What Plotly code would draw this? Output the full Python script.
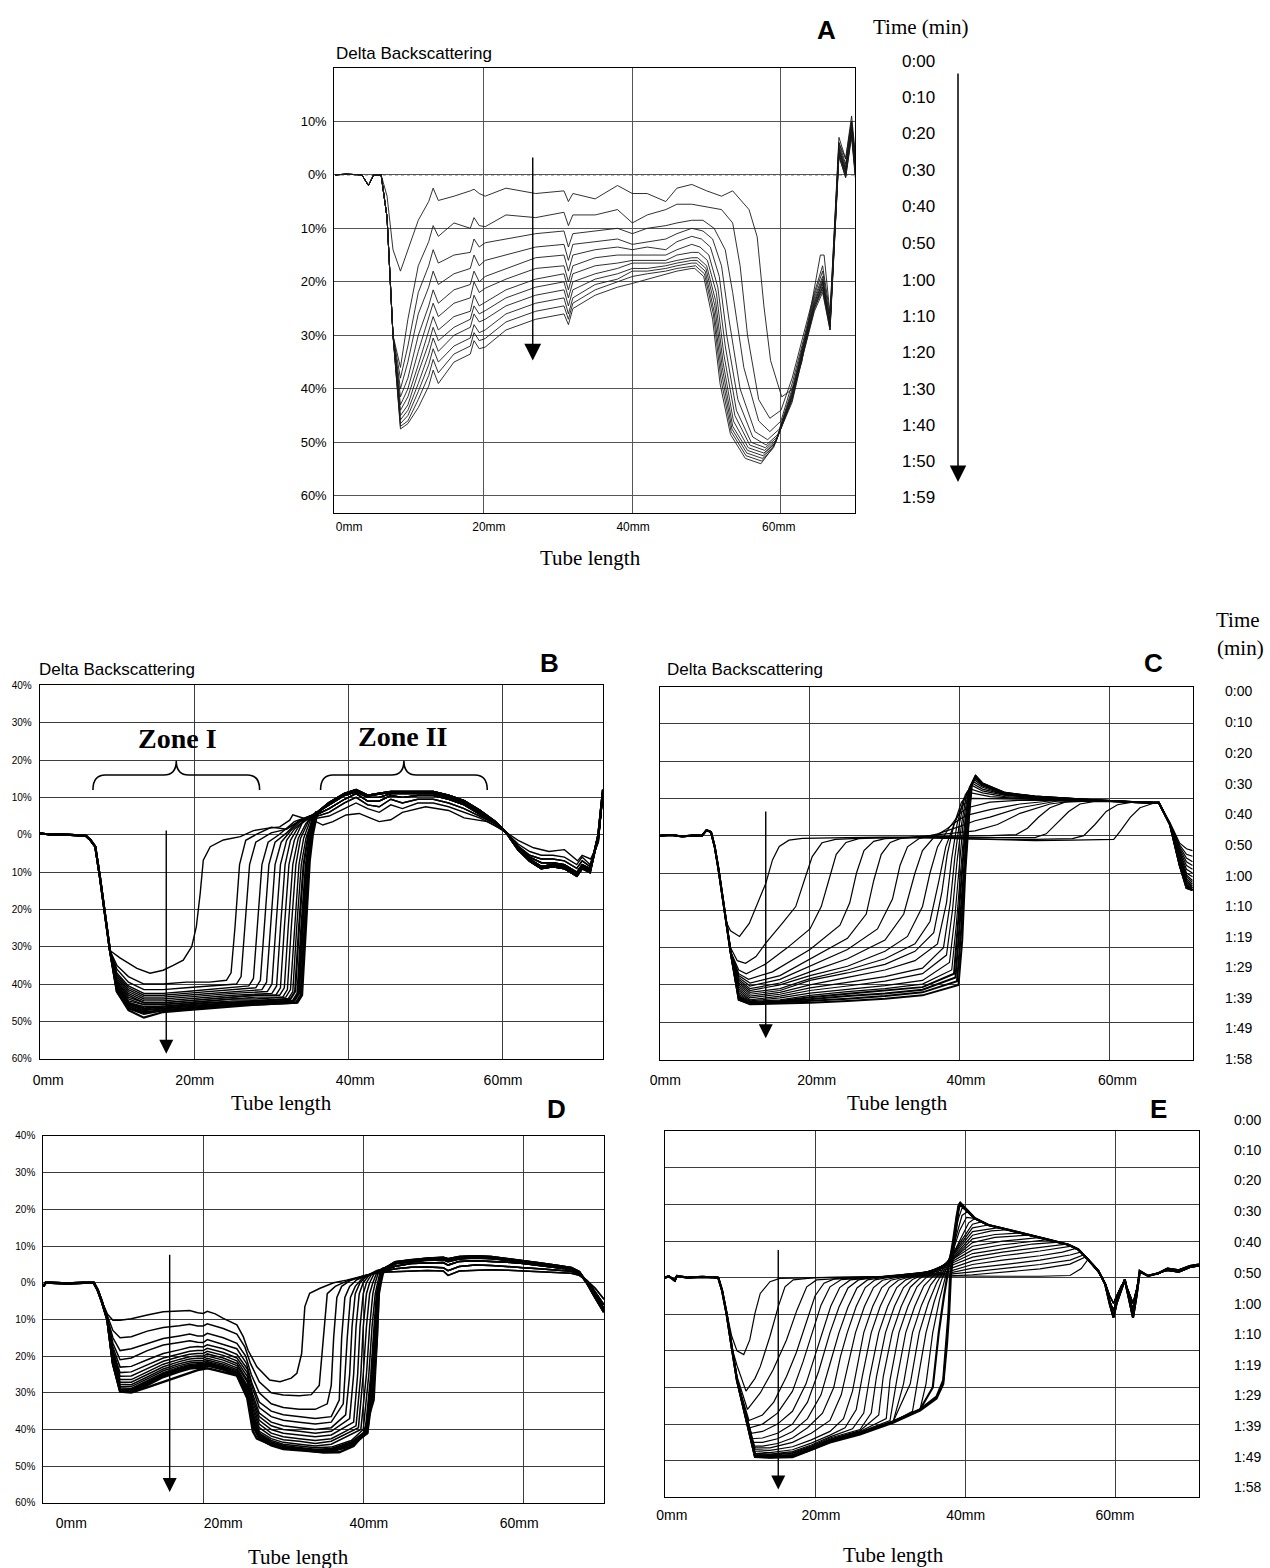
import plotly.graph_objects as go

W, H = 1270, 1568

# ============================ PANEL A ============================
A_BASE_X = [0.0, 1.5, 3.6, 4.5, 5.2, 6.2]
A_BASE_Y = [0.0, 0.1, 0.0, -2.0, 0.0, 0.0]
A_MID_X = [7.0, 7.8, 8.8, 9.8, 11.2, 12.6, 13.2, 13.9, 16.0, 18.2, 18.7, 19.4, 20.2, 23.0, 27.0,
           30.8, 31.4, 32.0, 35.0, 38.0, 40.0, 42.0, 44.5, 46.0, 48.0]
A_MID_Y = [
    [-4, -14, -18, -14, -8.5, -5, -2.5, -4.8, -4, -3, -2.7, -3.5, -4, -2.5, -3.5, -3, -5, -3.5, -4.5, -2, -3.5, -3.5, -5, -2.5, -1.8],
    [-8, -30, -36, -27, -17, -12.5, -9.5, -11.5, -9, -10, -8, -9.5, -9.7, -7.5, -8, -7, -9.5, -7.5, -7.5, -6.5, -9, -7.5, -6.5, -5.5, -5.5],
    [-8, -30, -38, -32, -22, -17, -14, -16.5, -15, -14.5, -12, -13.5, -12.7, -12, -11, -10.5, -13.5, -11, -10.5, -10, -11, -10, -9.5, -9, -8.5],
    [-8, -30, -40, -35, -26, -21, -18, -20.5, -18.5, -17.5, -15, -17, -16, -15, -13.5, -13, -16, -13, -12.5, -12, -13, -12.5, -12, -11, -10],
    [-8, -30, -41.5, -38, -30, -24.5, -21.5, -24, -21.5, -20.5, -18, -20, -19, -17.5, -15.5, -15, -18, -15, -14, -13.5, -14, -13.5, -14, -12.5, -11.5],
    [-8, -30, -43, -40, -33, -27, -24, -26.5, -24, -23, -20, -22, -21.2, -19.5, -17.5, -17, -20, -17, -15.5, -15, -15, -15, -15, -14, -13],
    [-8, -30, -44, -41.5, -35.5, -29.5, -26.5, -29, -26.5, -25.5, -22.5, -24.5, -23.8, -21.5, -19.5, -18.5, -21.5, -18.5, -17, -16.5, -16, -16, -16, -15, -14.5],
    [-8, -30, -45, -43, -37, -31.5, -28.5, -31, -28.5, -27, -24.5, -26, -25.4, -23, -21, -20, -23, -20, -18.5, -17.5, -16.5, -16.5, -16.5, -16, -15.5],
    [-8, -30, -45.8, -44, -39, -33.5, -30.5, -33, -30, -28.5, -26, -27.5, -27, -24.5, -22.5, -21.5, -24.5, -21.5, -19.5, -18.5, -17.5, -17.5, -17, -16.5, -16],
    [-8, -30, -46.5, -45, -40.5, -35.5, -32.5, -35, -32, -30.5, -28, -29.5, -29, -26, -24, -23, -26, -23, -20.5, -19.5, -18, -18, -17.5, -17, -16.5],
    [-8, -30, -47, -46, -42, -37.5, -34.5, -37, -33.5, -32, -29.5, -31, -30.6, -27.5, -25.5, -24.5, -27, -24, -21.5, -20, -19, -18.5, -18, -17.5, -17],
    [-8, -30, -47.5, -46.5, -43.5, -39.5, -36.5, -39, -35, -33.5, -31, -32.5, -32.2, -29, -27, -26, -28, -25, -22.5, -21, -20.3, -19.5, -18.5, -18, -17.5],
]
A_FIRST_RIGHT_X = [50, 52, 53.5, 54.5, 55.7, 56.8, 57.7, 58.6, 60.1, 61.6, 62.8, 64, 65.3, 65.8, 66.6, 67.8, 68.7, 69.5, 70.0]
A_FIRST_RIGHT_Y = [-3, -4, -3, -4.5, -6.5, -11.6, -24.5, -34.7, -41.5, -40, -35, -25, -15, -15, -26, 6, 3, 10, 3]
A_FRONT_X = [
    [50, 52, 53.5, 54.5, 55.5, 57, 58.5, 60],
    [49.5, 51, 52.5, 53.5, 55, 57, 58.5, 60],
    [49.5, 50.8, 52.0, 53.0, 54.5, 56.5, 58.2, 59.8],
    [49.3, 50.5, 51.7, 52.7, 54.2, 56.2, 58.0, 59.6],
    [49.1, 50.3, 51.5, 52.5, 54.0, 56.0, 57.9, 59.5],
    [48.9, 50.1, 51.3, 52.3, 53.8, 55.8, 57.8, 59.4],
    [48.8, 50.0, 51.2, 52.2, 53.6, 55.6, 57.7, 59.3],
    [48.7, 49.9, 51.1, 52.1, 53.5, 55.5, 57.6, 59.2],
    [48.6, 49.8, 51.0, 52.0, 53.4, 55.4, 57.5, 59.1],
    [48.5, 49.7, 50.9, 51.9, 53.3, 55.3, 57.4, 59.0],
    [48.4, 49.6, 50.8, 51.8, 53.2, 55.2, 57.3, 58.9],
]
A_TAIL_X = [61.5, 63.0, 64.5, 65.6, 66.6, 67.8, 68.7, 69.5, 70.0]
A_RIGHT_Y = [
    [-6, -6.5, -9, -17, -30, -42, -45.5, -44, -38, -30, -22, -17, -26, 7, 3, 11, 4],
    [-8.5, -10, -14, -22, -36, -46, -48, -46, -39, -31, -22.5, -18, -27, 6, 2, 10, 3],
    [-10.5, -12, -17, -27, -40, -48, -49.5, -47.5, -40, -31.5, -23, -19, -27.5, 5.5, 1.5, 9.5, 2],
    [-12, -13.5, -19, -30, -42, -49, -50.5, -48.5, -40.5, -32, -23.5, -19.5, -27.5, 5, 1, 9, 1.5],
    [-13.5, -15, -21, -32, -44, -50, -51, -49, -41, -32, -24, -20, -28, 5, 1, 9, 1],
    [-14.5, -16, -22, -33.5, -45, -50.5, -51.5, -49.5, -41, -32.5, -24, -20, -28, 4.5, 0.5, 8.5, 1],
    [-15.5, -17, -23.5, -35, -46, -51, -52, -50, -41.5, -32.5, -24.5, -20.5, -28, 4.5, 0.5, 8.5, 0.5],
    [-16, -17.5, -24.5, -36, -47, -51.5, -52.5, -50, -41.5, -33, -24.5, -21, -28.5, 4, 0, 8, 0.5],
    [-16.5, -18, -25.5, -37, -47.5, -52, -53, -50.5, -42, -33, -25, -21, -28.5, 4, 0, 8, 0],
    [-17, -18.5, -26, -38, -48, -52.5, -53.5, -51, -42, -33.5, -25, -21.5, -29, 3.5, -0.5, 7.5, 0],
    [-17.5, -19, -27, -39, -48.5, -53, -54, -51, -42.5, -33.5, -25.5, -22, -29, 3.5, -0.5, 7, -0.5],
]
A_TIMES = ['0:00', '0:10', '0:20', '0:30', '0:40', '0:50', '1:00', '1:10', '1:20', '1:30', '1:40', '1:50', '1:59']

# ============================ PANEL B ============================
B_BASE_X = [0, 1.5, 3, 4.5, 6.0, 6.6, 7.2, 7.8, 8.5, 9.1]
B_BASE_Y = [0.4, 0, 0.1, -0.1, -0.3, -1.5, -3.2, -11.3, -22, -31]
B_FIRST_X = [10.4, 12.6, 14.3, 16, 17.3, 18.6, 19.7, 20.3, 20.8, 21.2, 22.1, 23.8, 26, 27.7, 29.4, 31.1, 32.4, 32.8,
             34.2, 35.4, 36.7, 38, 39.7, 41.4, 42.8, 44, 45.5, 47, 50, 53, 55, 58, 60.2, 62, 64, 66, 68, 69.7,
             70.3, 71.4, 72.4, 73]
B_FIRST_Y = [-33, -35.8, -37.1, -36.3, -35, -33.6, -30, -24.6, -15.7, -6.8, -3.2, -1.4, -0.5, 1.1, 1.7, 2.1, 3.9, 5.3,
             4.4, 3.9, 2.6, 3.5, 5.3, 5.7, 4.5, 3.5, 4, 6, 7.5, 6.5, 4.5, 3.5, 1, -1.5, -3.5, -4.5, -4, -7,
             -5.5, -6.5, -2, 12]
B_MID_X = [
    [10, 11.5, 13.5, 16, 19, 22, 24.2, 24.8, 25.3, 25.9, 26.7, 28, 30, 32, 33.5, 35],
    [10, 11.5, 13.5, 16, 19, 22, 25.5, 26.1, 26.6, 27.2, 28, 30, 32, 33.5, 35],
    [10, 11.5, 13.5, 16, 19, 22, 25, 27.1, 27.7, 28.2, 28.8, 29.6, 31, 33, 35],
    [10, 11.5, 13.5, 16, 19, 22, 25, 28.0, 28.6, 29.1, 29.7, 30.5, 32, 33.5, 35],
    [10, 11.5, 13.5, 16, 19, 22, 25, 28.8, 29.4, 29.9, 30.5, 31.3, 32.5, 34, 35.5],
    [10, 11.5, 13.5, 16, 19, 22, 25, 29.5, 30.1, 30.6, 31.2, 32.0, 33, 34.3, 35.5],
    [10, 11.5, 13.5, 16, 19, 22, 25, 30.1, 30.7, 31.2, 31.8, 32.5, 33.5, 34.5, 35.7],
    [10, 11.5, 13.5, 16, 19, 22, 25, 28, 30.6, 31.2, 31.7, 32.3, 33, 34, 35.8],
    [10, 11.5, 13.5, 16, 19, 22, 25, 28, 31.1, 31.7, 32.2, 32.8, 33.5, 34.5, 35.8],
    [10, 11.5, 13.5, 16, 19, 22, 25, 28, 31.5, 32.1, 32.6, 33.2, 33.8, 34.8, 35.8],
    [10, 11.5, 13.5, 16, 19, 22, 25, 28, 31.9, 32.5, 33.0, 33.6, 34.2, 35, 35.8],
    [10, 11.5, 13.5, 16, 19, 22, 25, 28, 32.2, 32.8, 33.3, 33.9, 34.5, 35.2, 35.8],
    [10, 11.5, 13.5, 16, 19, 22, 25, 28, 32.5, 33.1, 33.6, 34.2, 34.8, 35.4, 35.9],
    [10, 11.5, 13.5, 16, 19, 22, 25, 28, 32.8, 33.4, 33.9, 34.5, 35, 35.5, 35.9],
    [10, 11.5, 13.5, 16, 19, 22, 25, 28, 33.0, 33.6, 34.1, 34.6, 35.1, 35.6, 35.9],
    [10, 11.5, 13.5, 16, 19, 22, 25, 28, 33.2, 33.8, 34.3, 34.8, 35.2, 35.7, 35.95],
    [10, 11.5, 13.5, 16, 19, 22, 25, 28, 33.4, 34.0, 34.5, 35.0, 35.4, 35.8, 35.95],
]
B_MID_Y = [
    [-35, -38, -40, -40, -39.5, -39.5, -39, -37, -25, -8, -1.5, 0, 2, 1.5, 3.5, 4],
    [-36, -39.5, -41.5, -41.5, -41, -40.5, -40, -38, -25, -8, -2, 0.5, 1.5, 3.5, 4.5],
    [-37, -40.5, -42.5, -42.5, -42, -41.5, -41, -40.5, -38.5, -25, -8, -2, 0, 3.5, 5],
    [-37.5, -41, -43, -43, -42.5, -42, -41.5, -41, -39, -25, -8, -2, 0.5, 3.5, 5],
    [-38, -41.5, -43.5, -43.5, -43, -42.5, -42, -41.5, -39.5, -25, -8, -2, 1, 4, 5.5],
    [-38.5, -42, -44, -44, -43.5, -43, -42.5, -42, -40, -25, -8, -1.5, 1.5, 4, 5.5],
    [-39, -42.5, -44.5, -44.5, -44, -43.5, -43, -42.5, -40.5, -25, -8, -1.5, 2, 4.5, 5.5],
    [-39.5, -43, -45, -45, -44.5, -44, -43.5, -43, -43, -41, -25, -8, -1.5, 3, 6],
    [-39.5, -43.5, -45, -45, -44.5, -44, -43.5, -43, -43, -41, -25, -8, -1, 3, 6],
    [-40, -44, -45.5, -45.5, -45, -44.5, -44, -43.5, -43.5, -41.5, -25, -8, -1, 3.5, 6],
    [-40, -44.5, -45.5, -45.5, -45, -44.5, -44, -44, -43.5, -41.5, -25, -8, -1, 3.5, 6],
    [-40.5, -45, -46, -46, -45.5, -45, -44.5, -44.5, -44, -42, -25, -8, -1, 3.5, 6],
    [-41, -45, -46.5, -46, -45.5, -45, -45, -44.5, -44, -42, -25, -8, 0, 4, 6],
    [-41, -45.5, -47, -46.5, -46, -45.5, -45, -45, -44.5, -42.5, -25, -8, 0, 4, 6],
    [-41.5, -46, -47.5, -47, -46.5, -46, -45.5, -45, -44.5, -42.5, -25, -8, 0, 4, 6],
    [-42, -46.5, -48, -47, -46.5, -46, -45.5, -45.5, -45, -43, -25, -8, 0, 4, 6],
    [-42, -47, -49, -47.5, -47, -46.5, -46, -45.5, -45, -43, -25, -7, 0, 4.5, 6],
]
B_RIGHT_X = [36, 37.5, 39.5, 41, 42.5, 44, 45.5, 47, 49, 51, 53, 55, 57, 59, 60.5, 62, 63.5, 65, 66.5, 68,
             69.6, 70.3, 71.3, 72.4, 73]
B_PROFILES = [
    [4.5, 5, 7, 8.5, 7, 6, 8, 7, 8.5, 8.5, 7.5, 6, 4.5, 2.5, 0.5, -2.5, -4.5, -5.5, -5.5, -6, -8, -6, -8, -2, 12],
    [5, 6, 8.5, 10, 8, 7.5, 9.5, 8.5, 9.5, 9.5, 8.5, 7, 5, 3, 0.5, -3, -5.5, -6.5, -6.5, -7, -9, -7, -8.5, -1.5, 12],
    [5.5, 7, 9.5, 11, 9, 9, 10.5, 10, 10.5, 10.5, 9.5, 8, 5.5, 3, 0.5, -3.5, -6, -7.5, -7.5, -8, -10, -8, -9, -1, 12],
    [6, 8, 10.5, 11.5, 10, 10, 11, 11, 11, 11, 10, 8.5, 6, 3, 0.5, -3.5, -6.5, -8.5, -8, -8.5, -10.5, -8.5, -9.5, -0.5, 12],
    [6, 8.5, 11, 12, 10.5, 11, 11.5, 11.5, 11.5, 11.5, 10.5, 9, 6.5, 3.5, 0.5, -4, -7, -9, -8.5, -9, -11, -9, -10, 0, 12],
]
B_PROFILE_OF = [0, 1, 1, 2, 2, 2, 2, 3, 3, 3, 3, 3, 4, 4, 4, 4, 4]

# ============================ PANEL C ============================
C_BASE_X = [0, 1.5, 3, 4.5, 5.6, 6.2, 6.8, 7.3, 7.8, 8.3, 8.8]
C_BASE_Y = [0, 0.2, -0.2, 0.1, 0, 1.5, 1, -3, -9, -16, -23]
C_X = [
    [9.4, 10.6, 11.9, 13.2, 14.1, 15.0, 15.9, 17.2, 19, 25, 30, 35, 40, 45, 50, 55, 60.5, 61.4, 62.7, 64, 65.8, 66.5, 68, 69.3, 70.2, 71.0],
    [9.4, 10.3, 11.4, 12.8, 14.1, 16.3, 18.1, 19.4, 20.3, 21.6, 23.4, 28, 35, 40, 45, 50, 55, 56.5, 58, 59.5, 61, 63, 65.8, 66.5, 68, 69.3, 70.2, 71.0],
    [9.4, 10.5, 11.5, 14, 17, 20, 21.5, 22.5, 23.5, 24.8, 26.5, 30, 35, 40, 45, 50, 51.5, 53, 54.5, 56, 58, 62, 65.8, 66.5, 68, 69.3, 70.2, 71.0],
    [9.4, 10.5, 11.8, 15, 20, 24, 25.3, 26.2, 27.2, 28.5, 30, 35, 40, 44, 47.5, 49, 50.5, 52, 54, 58, 62, 65.8, 66.5, 68, 69.3, 70.2, 71.0],
    [9.4, 10.5, 12, 16, 20, 25, 27.5, 28.5, 29.5, 30.7, 32, 36, 40, 42, 45, 48, 52, 55, 58, 62, 65.8, 66.5, 68, 69.3, 70.2, 71.0],
    [9.4, 10.5, 12, 16, 20, 25, 29, 31, 32, 33, 34.5, 37, 40, 42, 44, 48, 53, 58, 62, 65.8, 66.5, 68, 69.3, 70.2, 71.0],
    [9.4, 10.5, 12, 16, 20, 25, 30, 32.5, 34, 35, 36.5, 38, 40, 41, 44, 48, 52, 58, 62, 65.8, 66.5, 68, 69.3, 70.2, 71.0],
    [9.4, 10.5, 12, 16, 20, 25, 30, 33, 35, 36, 37, 38.5, 40, 41, 44, 48, 58, 62, 65.8, 66.5, 68, 69.3, 70.2, 71.0],
    [9.4, 10.5, 12, 16, 20, 25, 30, 34, 36, 37.2, 38.1, 39.2, 40.3, 41.5, 44, 48, 58, 62, 65.8, 66.5, 68, 69.3, 70.2, 71.0],
    [9.4, 10.5, 12, 16, 20, 25, 30, 34, 36.5, 37.6, 38.3, 39.2, 40.2, 41.5, 44, 48, 58, 62, 65.8, 66.5, 68, 69.3, 70.2, 71.0],
    [9.4, 10.5, 12, 16, 20, 25, 30, 34, 37, 38.2, 38.9, 39.6, 40.5, 41.5, 43, 46, 50, 58, 62, 65.8, 66.5, 68, 69.3, 70.2, 71.0],
    [9.4, 10.5, 12, 16, 20, 25, 30, 35, 37.8, 38.7, 39.3, 39.9, 40.7, 41.6, 43, 46, 50, 58, 62, 65.8, 66.5, 68, 69.3, 70.2, 71.0],
    [9.4, 10.5, 12, 16, 20, 25, 30, 35, 38.2, 39.0, 39.6, 40.2, 40.9, 41.7, 43, 46, 50, 58, 62, 65.8, 66.5, 68, 69.3, 70.2, 71.0],
    [9.4, 10.5, 12, 16, 20, 25, 30, 35, 38.6, 39.3, 39.9, 40.4, 41.1, 41.8, 43, 46, 50, 58, 62, 65.8, 66.5, 68, 69.3, 70.2, 71.0],
    [9.4, 10.5, 12, 16, 20, 25, 30, 35, 38.9, 39.5, 40.1, 40.6, 41.2, 41.9, 43, 46, 50, 58, 62, 65.8, 66.5, 68, 69.3, 70.2, 71.0],
    [9.4, 10.5, 12, 16, 20, 25, 30, 35, 39.2, 39.7, 40.3, 40.8, 41.3, 42.0, 43, 46, 50, 58, 62, 65.8, 66.5, 68, 69.3, 70.2, 71.0],
    [9.4, 10.5, 12, 16, 20, 25, 30, 35, 39.4, 39.9, 40.5, 41.0, 41.4, 42.0, 43, 46, 50, 58, 62, 65.8, 66.5, 68, 69.3, 70.2, 71.0],
    [9.4, 10.5, 12, 16, 20, 25, 30, 35, 39.6, 40.1, 40.6, 41.1, 41.5, 42.1, 43, 46, 50, 58, 62, 65.8, 66.5, 68, 69.3, 70.2, 71.0],
    [9.4, 10.5, 12, 16, 20, 25, 30, 35, 39.8, 40.3, 40.7, 41.2, 41.6, 42.1, 43, 46, 50, 58, 62, 65.8, 66.5, 68, 69.3, 70.2, 71.0],
]
C_Y = [
    [-25.5, -27, -23.5, -17.2, -12.8, -6.5, -2.9, -1.2, -0.7, -0.5, -0.4, -0.5, -0.8, -1.2, -1.3, -1.2, -1, 1.3, 4.9, 7.5, 8.7, 8.8, 3.5, -2, -3.5, -4],
    [-30, -33.5, -34.2, -32.4, -28.8, -23.5, -19, -11, -5.6, -1.9, -1, -0.6, -0.5, -0.8, -1, -1, -0.8, 0, 3, 6.5, 8.3, 9, 8.8, 8.9, 3.2, -2.5, -5, -5.5],
    [-31, -36, -37, -34.5, -30, -25, -19, -12, -5, -1.8, -0.8, -0.5, -0.3, -0.5, -0.6, -0.5, 0.5, 3.5, 6.5, 8.5, 9.2, 9.1, 8.8, 8.9, 3.1, -3, -6, -7],
    [-31, -37, -38.5, -36.5, -30.5, -24, -18, -10, -4, -1.5, -0.8, -0.3, -0.2, 0, 0.3, 2, 5, 7.5, 9, 9.3, 9.1, 8.8, 8.9, 3, -3.5, -7, -8],
    [-31, -37.5, -39.5, -37.5, -33, -27.5, -21, -12, -5, -1.8, -0.8, 0, 0.8, 1.3, 3, 6, 8.5, 9.3, 9.4, 9.1, 8.8, 8.9, 3, -4, -8, -9],
    [-31, -38, -40.3, -38.5, -35, -30.5, -25, -17, -8, -3, -0.8, 0.5, 2.5, 4, 5, 7.5, 9.3, 9.4, 9.1, 8.8, 8.9, 3, -4.5, -9, -10],
    [-31, -38.5, -41, -39.5, -36.5, -33, -28, -21, -10, -4, -0.5, 1.5, 4.5, 5.5, 7, 8.5, 9.3, 9.4, 9.1, 8.8, 8.9, 3, -5, -10, -11],
    [-31, -39, -41.5, -40, -37.5, -35, -31, -27, -19, -10, -3, 2, 6, 7.5, 9, 9.5, 9.4, 9.1, 8.8, 8.9, 3, -5.5, -10.5, -12],
    [-31, -39.5, -42, -41, -38.3, -36, -33, -29, -23, -12, -3, 3, 8, 10, 10, 9.8, 9.4, 9.1, 8.8, 8.9, 3, -6, -11, -12.5],
    [-31, -40, -42.5, -41.5, -38.8, -36.8, -34.5, -31, -26, -15, -5, 3, 9, 11.5, 10.5, 10, 9.4, 9.1, 8.8, 8.9, 3, -6, -11.5, -13],
    [-31, -40.5, -43, -42, -40, -38, -36, -33.5, -29, -18, -6, 3, 10, 12.5, 11.5, 10.5, 10, 9.4, 9.1, 8.8, 8.9, 3, -6.5, -12, -13.5],
    [-31, -41, -43.5, -42.5, -40.8, -39.3, -37.8, -35.5, -30, -18, -6, 3, 11, 13.5, 12, 10.8, 10.2, 9.4, 9.1, 8.8, 8.9, 3, -6.5, -12, -14],
    [-31, -41.5, -44, -43, -41.5, -40.3, -39, -37, -32, -20, -7, 3, 11.5, 14, 12.5, 11, 10.2, 9.4, 9.1, 8.8, 8.9, 3, -7, -12.5, -14],
    [-31, -42, -44.3, -43.5, -42.2, -41.2, -40.2, -38.8, -34, -22, -8, 3, 12, 14.5, 13, 11, 10.3, 9.5, 9.1, 8.8, 8.9, 3, -7, -13, -14.5],
    [-31, -42.5, -44.5, -44, -42.8, -41.8, -41, -39.8, -36, -24, -9, 3, 12.5, 15, 13.3, 11.2, 10.4, 9.5, 9.1, 8.8, 8.9, 3, -7.5, -13, -14.5],
    [-31, -43, -44.8, -44.3, -43.3, -42.4, -41.6, -40.6, -37, -25, -9, 4, 13, 15.5, 13.6, 11.3, 10.4, 9.5, 9.1, 8.8, 8.9, 3, -7.5, -13.5, -14.6],
    [-31, -43.5, -45, -44.5, -43.8, -43, -42.3, -41.3, -38, -26, -10, 4, 13, 15.8, 13.8, 11.4, 10.5, 9.5, 9.1, 8.8, 8.9, 3, -8, -13.5, -14.6],
    [-31, -44, -45, -44.7, -44.3, -43.7, -43, -42, -39, -27, -10, 4.5, 13.5, 16, 14, 11.5, 10.5, 9.5, 9.1, 8.8, 8.9, 3, -8, -14, -14.6],
    [-31, -44, -45.2, -45, -44.8, -44.3, -43.7, -42.8, -40, -28, -10, 5, 14, 16, 14, 11.5, 10.5, 9.5, 9.1, 8.8, 8.9, 3, -8, -14, -14.6],
]
C_TIMES = ['0:00', '0:10', '0:20', '0:30', '0:40', '0:50', '1:00', '1:10', '1:19', '1:29', '1:39', '1:49', '1:58']

# ============================ PANEL D ============================
D_BASE_X = [0, 0.3, 1, 3, 5, 6.3, 6.8, 7.3]
D_BASE_Y = [-1, 0, 0, -0.2, 0, 0, -2, -5]
D_LEFT_X = [8.0, 8.7, 9.6, 11, 13, 15, 17, 18.3, 19.3, 20, 20.5, 21.5, 22.5, 24.2]
D_LEFT_Y = [
    [-8.5, -10.2, -10.2, -9.8, -8.8, -7.9, -7.7, -7.6, -8.2, -8.4, -7.8, -8.5, -9.7, -11.5],
    [-9, -13, -15, -14.7, -13.2, -12.2, -11.7, -11.3, -11.8, -11.8, -11.2, -11.8, -12.5, -14],
    [-9.5, -15, -18.5, -18, -16.5, -15.2, -14.5, -14, -14.5, -14.5, -13.8, -14.5, -15, -16.5],
    [-9.8, -16.5, -21, -20.5, -18.5, -17, -16.3, -15.8, -16.2, -16.3, -15.5, -16.2, -16.8, -18],
    [-10, -17.5, -23, -22.8, -21, -19.3, -18.3, -17.6, -17.4, -17.5, -16.9, -17.4, -18, -19.5],
    [-10, -18.5, -24.5, -24.3, -22.4, -20.5, -19.4, -18.7, -18.5, -18.5, -17.9, -18.4, -19, -20.5],
    [-10, -19, -25.5, -25.4, -23.4, -21.4, -20.2, -19.5, -19.3, -19.3, -18.7, -19.2, -19.8, -21.3],
    [-10, -19.5, -26.4, -26.4, -24.3, -22.2, -20.9, -20.2, -20, -20, -19.4, -19.9, -20.5, -22],
    [-10, -20, -27.1, -27.1, -25, -22.9, -21.5, -20.8, -20.6, -20.6, -20, -20.5, -21.1, -22.6],
    [-10, -20.5, -27.7, -27.8, -25.7, -23.5, -22.1, -21.4, -21.2, -21.2, -20.6, -21.1, -21.7, -23.2],
    [-10, -21, -28.2, -28.3, -26.2, -24, -22.6, -21.9, -21.7, -21.7, -21.1, -21.6, -22.2, -23.7],
    [-10, -21.3, -28.6, -28.8, -26.7, -24.5, -23, -22.3, -22.1, -22.1, -21.5, -22, -22.6, -24.1],
    [-10, -21.6, -29, -29.2, -27.1, -24.9, -23.4, -22.7, -22.5, -22.5, -21.9, -22.4, -23, -24.5],
    [-10, -21.8, -29.3, -29.5, -27.5, -25.3, -23.8, -23.1, -22.9, -22.9, -22.3, -22.8, -23.4, -24.8],
    [-10, -22, -29.5, -29.7, -27.9, -25.7, -24.2, -23.4, -23.2, -23.2, -22.6, -23.1, -23.7, -25.1],
    [-10, -22, -29.7, -29.9, -28.5, -27, -25.6, -24.6, -23.8, -23.5, -23.3, -23.8, -24.3, -25.3],
]
D_MID_X = [
    [25, 25.6, 26.7, 28.3, 29.6, 31, 31.7, 32.3, 32.7, 33.3, 34.6, 36.3, 37.9, 39.6, 41.3],
    [25.2, 25.9, 27, 28.5, 30, 32, 33.5, 34.5, 35, 35.5, 36.5, 38, 40, 41.5],
    [25.3, 26, 27, 28.5, 30, 32, 34, 35.5, 36, 36.3, 36.7, 37.3, 38.3, 40, 41.7],
    [25.4, 26.1, 27, 28.5, 30, 32, 34, 36, 37, 37.3, 37.7, 38.3, 39.2, 40.5, 41.8],
    [25.5, 26.2, 27, 28.5, 30, 32, 34, 36, 37.5, 38, 38.4, 39, 39.8, 41, 42],
    [25.5, 26.2, 27, 28.5, 30, 32, 34, 36, 37.8, 38.3, 38.6, 39, 39.6, 40.5, 41.7],
    [25.5, 26.2, 27, 28.5, 30, 32, 34, 36, 38.3, 38.8, 39.1, 39.5, 40, 40.8, 41.9],
    [25.5, 26.2, 27, 28.5, 30, 32, 34, 36, 38.8, 39.3, 39.6, 40, 40.4, 41.1, 42],
    [25.5, 26.2, 27, 28.5, 30, 32, 34, 36, 39.1, 39.7, 40, 40.4, 40.8, 41.4, 42.2],
    [25.5, 26.2, 27, 28.5, 30, 32, 34, 36, 39.4, 40, 40.4, 40.8, 41.2, 41.7, 42.3],
    [25.5, 26.2, 27, 28.5, 30, 32, 34, 36, 39.7, 40.4, 40.8, 41.2, 41.5, 41.9, 42.4],
    [25.5, 26.2, 27, 28.5, 30, 32, 34, 36, 38.5, 40.0, 40.7, 41.1, 41.5, 41.8, 42.1, 42.5],
    [25.5, 26.2, 27, 28.5, 30, 32, 34, 36, 38.5, 40.3, 41.0, 41.4, 41.7, 42.0, 42.3, 42.7],
    [25.5, 26.2, 27, 28.5, 30, 32, 34, 36, 38.5, 40.5, 41.2, 41.6, 41.9, 42.1, 42.4, 42.8],
    [25.5, 26.2, 27, 28.5, 30, 32, 34, 36, 38.5, 40.5, 41.3, 41.7, 41.95, 42.2, 42.5, 42.9],
    [25.5, 26.2, 26.7, 28.3, 30.4, 33, 35, 37, 38.8, 40, 41.3, 41.7, 41.95, 42.3, 42.6, 42.9],
]
D_MID_Y = [
    [-14.7, -18.4, -22.9, -26.5, -27, -26, -24.7, -19.3, -6.5, -2.9, -1.5, 0, 0.7, 1.6, 2.5],
    [-17.5, -22, -27, -30, -30.6, -30.8, -30.5, -28, -15, -3, -1, 0.5, 1.8, 2.6],
    [-20, -25, -30, -33, -34, -34.5, -34.5, -33, -28, -15, -4, -1, 0.5, 1.8, 2.8],
    [-22, -27.5, -32.5, -35, -36, -36.5, -37, -36.5, -32, -15, -4, -1, 0.8, 2, 3],
    [-23.5, -29, -34, -36.5, -37.5, -38, -38.5, -38, -33, -15, -4, -1, 1, 2.3, 3.1],
    [-24.5, -30.5, -35.5, -38, -39, -39.5, -40, -39.5, -36, -25, -12, -3, 0, 2, 3.3],
    [-25.5, -31.5, -36.5, -39, -40, -40.5, -41, -40.5, -37, -25, -12, -3, 0, 2.2, 3.4],
    [-26.5, -32.5, -37.5, -40, -41, -41.5, -42, -41.5, -38, -25, -12, -3, 0, 2.5, 3.5],
    [-27, -33.5, -38.5, -41, -42, -42.5, -43, -42.5, -39, -25, -12, -3, 0, 2.6, 3.6],
    [-28, -34.5, -39.5, -41.8, -42.8, -43.2, -43.8, -43.2, -39.5, -25, -12, -3, 0, 2.8, 3.8],
    [-28.5, -35.5, -40.5, -42.5, -43.5, -44, -44.5, -44, -40, -25, -12, -3, 0, 2.9, 3.9],
    [-29, -36, -41, -43, -44, -44.5, -45, -44.8, -43, -40, -25, -12, -3, 0, 2.9, 4],
    [-29.5, -37, -41.5, -43.5, -44.5, -45, -45.5, -45.3, -43.5, -40.5, -25, -12, -3, 0, 3, 4],
    [-30, -38, -42, -44, -45, -45.3, -45.8, -45.6, -44, -41, -25, -12, -3, 0, 3, 4.1],
    [-30.5, -39, -42.5, -44.3, -45.3, -45.7, -46, -46, -44.5, -41, -28, -15, -3, 0, 3, 4.2],
    [-31.5, -40.5, -42.5, -44, -45, -45.8, -46.3, -46.2, -44.5, -41.5, -32, -15.6, -1, 2, 3.2, 4.2],
]
D_RIGHT_X = [43, 44, 46, 48, 50, 50.6, 52, 54, 56, 58, 60, 62, 64, 66, 67, 68, 69, 69.6, 70.1]
D_PROFILES = [
    [2.9, 3, 3.2, 3.3, 3.2, 2.0, 3.2, 3.4, 3.5, 3.4, 3.2, 3.0, 2.8, 2.6, 2, 0.5, -1.5, -3, -4.5],
    [3.3, 3.8, 4.2, 4.3, 4.1, 3.3, 4.4, 4.8, 4.7, 4.5, 4.1, 3.8, 3.4, 3.1, 2.3, 0.5, -2.5, -4.5, -6],
    [3.7, 4.5, 5.2, 5.4, 5.5, 4.8, 5.8, 6, 5.9, 5.6, 5.2, 4.6, 4.2, 3.6, 2.6, 0.2, -3, -5, -7],
    [4.1, 5.2, 5.8, 6.2, 6.3, 5.8, 6.5, 6.8, 6.6, 6.2, 5.7, 5.1, 4.5, 3.9, 2.8, 0, -3.5, -5.5, -7.5],
    [4.3, 5.6, 6.2, 6.6, 6.8, 6.4, 7, 7.2, 7, 6.5, 6, 5.3, 4.7, 4, 2.9, -0.2, -4, -6, -8],
]
D_PROFILE_OF = [0, 0, 1, 1, 1, 2, 2, 2, 2, 3, 3, 3, 3, 4, 4, 4]

# ============================ PANEL E ============================
E_BASE_X = [0, 0.5, 1.0, 1.3, 1.6, 3, 5, 7.1, 7.6, 8.2]
E_BASE_Y = [0, 0.4, -0.3, -0.8, 0.5, 0, 0.2, 0, -3.4, -9.7]
E_ENV_X = [39.3, 41.3, 43.1, 45.8, 48.4, 51.1, 53.8, 55.1, 56.4]
E_ENV_Y = [20.3, 16.2, 14.4, 13.1, 11.7, 10.4, 9.0, 7.7, 5.0]
E_TAIL_X = [57.8, 58.7, 59.3, 59.8, 60.2, 60.9, 61.3, 61.9, 62.4, 62.9, 63.3, 64.4, 65.8, 67, 68.5, 70, 71.2]
E_TAILS = [
    [1.5, -1.5, -5, -7, -5, -2, -1, -4, -7, -3, 1.5, 0.5, 1.2, 2, 1.5, 2.8, 3.2],
    [1.8, -1.8, -6.5, -9, -6, -2.5, -0.5, -5, -9, -4, 1.8, 0.5, 1.2, 2.3, 1.8, 3, 3.4],
    [1.8, -1.8, -7.2, -10.8, -7, -2.7, -0.5, -6, -10.8, -4.5, 1.8, 0.5, 1.2, 2.5, 2, 3.2, 3.6],
]
E_X = [
    [8.9, 9.6, 10.5, 11.3, 12.0, 12.7, 14.0, 15.3, 20, 25, 30, 36, 40, 45, 50, 54, 55.5],
    [8.9, 9.6, 10.8, 12.0, 12.7, 14.0, 15.1, 16.0, 17.1, 20, 30, 38, 41, 46, 50, 54, 56.0],
    [8.9, 9.6, 11.0, 12.7, 14.4, 16.2, 17.6, 18.9, 20.2, 25, 32, 38, 41, 46, 50, 54, 55.8],
    [8.9, 9.6, 11.2, 13, 14.5, 16.2, 17.5, 18.8, 20, 21.2, 22.5, 28, 34, 38, 41, 46, 50, 54, 55.4],
    [8.9, 9.6, 11.3, 13, 15, 17, 18.4, 19.6, 20.8, 22, 23.5, 30, 35, 38, 41, 45, 50, 53, 54.8],
    [8.9, 9.6, 11.5, 13, 15, 17, 18.8, 20.1, 20.9, 22.1, 23.3, 24.7, 30, 35, 38, 41, 45, 50, 54.2],
    [8.9, 9.6, 11.6, 13, 15, 17, 19, 20.5, 22, 23.2, 24.4, 25.8, 30, 35, 37.5, 41, 45, 50, 53.5],
    [8.9, 9.6, 11.7, 13, 15, 17, 19, 20.8, 22, 23.2, 24.4, 25.6, 27, 31, 35, 37.5, 41, 45, 49, 52.5],
    [8.9, 9.6, 11.8, 13, 15, 17, 19, 21, 22.5, 23.4, 24.3, 25.5, 26.7, 28, 32, 35, 37.5, 41, 45, 51.0],
    [8.9, 9.6, 12, 14, 17, 19.5, 22, 23.5, 24.5, 25.4, 26.6, 27.8, 29, 33, 35.5, 37.5, 41, 45, 49.8],
    [8.9, 9.6, 12, 14, 17, 19.5, 22, 23.8, 25, 25.8, 26.5, 27.7, 28.9, 30.1, 34, 36, 38, 41, 44, 48.5],
    [8.9, 9.6, 12, 14, 17, 19.5, 22, 24, 25.5, 26.3, 27.5, 28.7, 29.9, 31.1, 34.5, 36.5, 38.3, 41, 44, 47.3],
    [8.9, 9.6, 12, 14, 17, 19.5, 22, 25, 26.5, 27.3, 28.5, 29.7, 30.9, 32.1, 35, 37, 38.6, 41, 43.5, 45.8],
    [8.9, 9.6, 12, 14, 17, 19.5, 22, 26, 27.5, 28.2, 29.4, 30.6, 31.8, 33, 35.5, 37.3, 38.8, 41, 44.5],
    [8.9, 9.6, 12, 14, 17, 19.5, 22, 26, 28.5, 29.1, 30.3, 31.5, 32.7, 33.9, 36, 37.6, 39, 41, 43.1],
    [8.9, 9.6, 12, 14, 17, 19.5, 22, 26, 29.5, 30.0, 31.2, 32.4, 33.6, 34.8, 36.5, 38, 39.3, 41, 42.3],
    [8.9, 9.6, 12, 14, 17, 19.5, 22, 26, 30, 30.9, 32.1, 33.3, 34.5, 35.7, 37, 38.3, 39.5, 40.5, 41.3],
    [8.9, 9.6, 12, 14, 17, 19.5, 22, 26, 30.4, 31.8, 33, 34.2, 35.4, 36.6, 37.6, 38.5, 39.3, 40.2, 41.3],
    [8.9, 9.6, 12, 14, 17, 19.5, 22, 26, 30.4, 32.7, 33.9, 35.1, 36.2, 37.2, 38.1, 38.9, 39.6, 40.3, 41.3],
    [8.9, 9.6, 12, 14, 17, 19.5, 22, 26, 30.4, 33, 33.7, 34.8, 35.9, 36.8, 37.6, 38.4, 39.1, 39.6, 40.3, 41.3],
    [8.9, 9.6, 12, 14, 17, 19.5, 22, 26, 30.4, 34, 34.8, 35.7, 36.6, 37.3, 38, 38.7, 39.2, 39.5, 41.3],
    [8.9, 9.6, 12, 14, 17, 19.5, 22, 26, 30.4, 34, 35.7, 36.5, 37.2, 37.8, 38.4, 38.9, 39.3, 41.3],
    [8.9, 9.6, 12, 14, 17, 19.3, 22, 26, 30.4, 34, 36.2, 37.1, 37.5, 37.8, 38.0, 38.5, 39.1, 39.3, 41.3],
    [8.9, 9.6, 12, 14, 17, 19.3, 22, 26, 30.4, 34, 36.2, 37.1, 37.6, 37.9, 38.1, 38.6, 39.2, 39.4, 41.3],
]
E_Y = [
    [-16, -20, -21, -17, -9.7, -4.3, -1.1, -0.2, 0, 0.3, 0.4, 0.5, 0.4, 0.4, 0.4, 0.6, 2.5],
    [-19, -24, -31, -27.5, -24.3, -16, -7.9, -2.5, -0.6, 0, 0.3, 0.5, 0.8, 1.6, 2.4, 3.7, 5.6],
    [-19, -27, -36, -31.5, -25.2, -17, -8.8, -2.5, -0.6, 0, 0.5, 1, 1.6, 2.6, 3.6, 4.8, 6.2],
    [-19, -28, -39, -37.5, -34, -27, -20.5, -12.5, -5, -1.5, -0.4, 0.2, 0.7, 1.3, 2.6, 3.8, 4.8, 6.2, 7.0],
    [-19, -28, -41, -40, -37, -31, -23, -15, -7.5, -2.5, -0.5, 0.4, 1, 1.8, 3.6, 4.8, 6, 7, 8.0],
    [-19, -28, -42.5, -42, -40, -36.5, -29, -20.5, -15, -7.8, -2.7, -0.6, 0.5, 1.2, 2.5, 4.6, 6, 7.3, 8.6],
    [-19, -28, -44, -43.8, -42.5, -40, -34, -25.5, -15, -8, -2.8, -0.6, 0.6, 1.4, 2.8, 5.6, 7, 8.2, 9.2],
    [-19, -28, -45, -45, -44, -42, -38.5, -32, -23.5, -15, -8, -2.8, -0.6, 0.7, 1.5, 3.2, 6.6, 8, 9.2, 9.7],
    [-19, -28, -46, -46, -45.3, -43.8, -41, -37, -30, -21.5, -15, -7.8, -2.7, -0.6, 0.9, 1.6, 3.5, 7.6, 9, 10.45],
    [-19, -28, -46.5, -46.5, -45, -42.5, -39, -32, -23, -15, -7.8, -2.7, -0.7, 1.0, 1.8, 3.8, 8.6, 10, 10.95],
    [-19, -28, -47, -47.2, -46.2, -44.3, -42, -38.5, -31, -23, -15, -7.8, -2.7, -0.7, 1.2, 2.1, 4.5, 9.6, 11, 11.65],
    [-19, -28, -47.5, -47.8, -47, -45.2, -43, -41, -36, -27, -15, -7.8, -2.7, -0.7, 1.4, 2.5, 5, 10.6, 11.8, 12.2],
    [-19, -28, -48, -48.2, -47.5, -45.7, -43.5, -41.3, -37, -27, -15, -7.8, -2.7, -0.6, 1.6, 3, 6, 11.6, 12.8, 13.1],
    [-19, -28, -48, -48.3, -47.8, -46, -43.8, -41.5, -37, -27, -15, -7.8, -2.7, -0.5, 1.8, 3.5, 7, 12.6, 13.7],
    [-19, -28, -48.3, -48.5, -48, -46.2, -44.1, -41.8, -37.5, -27, -15, -7.8, -2.6, -0.3, 2, 4, 8, 13.6, 14.4],
    [-19, -28, -48.5, -48.7, -48.3, -46.4, -44.3, -42, -38.5, -28, -15, -7.8, -2.5, 0, 2.3, 5, 9.5, 14.6, 15.3],
    [-19, -28, -48.5, -48.8, -48.4, -46.6, -44.5, -42.2, -39, -28, -15, -7.8, -2.3, 0.3, 2.8, 6, 11, 15, 16.2],
    [-19, -28, -48.5, -48.8, -48.5, -46.7, -44.6, -42.3, -39.5, -29, -15, -7.5, -2, 1, 3.8, 8, 13, 16.5, 16.2],
    [-19, -28, -48.7, -48.9, -48.6, -46.8, -44.7, -42.4, -39.4, -29, -15, -7, -1.5, 2, 6, 12, 17, 18, 16.2],
    [-19, -28, -48.8, -49, -48.7, -46.9, -44.8, -42.5, -39.4, -36.5, -28, -15, -6.5, -1, 3, 9, 16, 19, 18.6, 16.2],
    [-19, -28, -48.8, -49, -48.8, -47, -44.8, -42.5, -39.3, -36, -29, -15, -6, -0.5, 5, 13, 19, 19.8, 16.2],
    [-19, -28, -48.8, -49, -48.8, -47, -44.8, -42.5, -39.3, -36, -30, -15, -5, 2, 10, 17, 20.1, 16.2],
    [-19, -28, -48.8, -49, -48.8, -47, -44.8, -42.5, -39.3, -36, -32.5, -28, -18.8, -9.7, 0, 10, 19.5, 20.3, 16.2],
    [-19, -28, -49, -49.2, -49, -47.2, -45, -42.8, -39.6, -36.3, -33, -29, -18, -9, 0, 10, 19.5, 20.4, 16.3],
]
E_TAIL_OF = [0, 0, 0, 0, 0, 1, 1, 1, 1, 1, 1, 1, 2, 2, 2, 2, 2, 2, 2, 2, 2, 2, 2, 2]
E_TIMES = C_TIMES

# tick labels (grid at 0/20/40/60 mm; label anchor positions as printed in each panel)
MM_GRID = [0, 20, 40, 60]
MM_TEXT = ['0mm', '20mm', '40mm', '60mm']
MM_LABEL_POS = {
    'A': [1.9, 20.7, 40.1, 59.7],
    'B': [1.1, 20.1, 40.9, 60.05],
    'C': [0.7, 20.9, 40.8, 61.0],
    'D': [3.5, 22.5, 40.7, 59.5],
    'E': [0.9, 20.8, 40.1, 60.0],
}
A_PCT_VALS = [10, 0, -10, -20, -30, -40, -50, -60]
A_PCT_TEXT = ['10%', '0%', '10%', '20%', '30%', '40%', '50%', '60%']
PCT_VALS = [40, 30, 20, 10, 0, -10, -20, -30, -40, -50, -60]
PCT_TEXT = ['40%', '30%', '20%', '10%', '0%', '10%', '20%', '30%', '40%', '50%', '60%']

# ====================================================================
SANS = 'Liberation Sans, Arial, sans-serif'
SERIF = 'Liberation Serif, Times New Roman, serif'

fig = go.Figure()


def line(xs, ys, idx, width, color='black'):
    assert len(xs) == len(ys), (len(xs), len(ys))
    sfx = '' if idx == 1 else str(idx)
    fig.add_trace(go.Scatter(x=xs, y=ys, mode='lines', line=dict(color=color, width=width),
                             xaxis='x' + sfx, yaxis='y' + sfx, hoverinfo='skip', showlegend=False))


# --- A
for i in range(12):
    xs = A_BASE_X + A_MID_X
    ys = A_BASE_Y + A_MID_Y[i]
    if i == 0:
        xs = xs + A_FIRST_RIGHT_X
        ys = ys + A_FIRST_RIGHT_Y
    else:
        xs = xs + A_FRONT_X[i - 1] + A_TAIL_X
        ys = ys + A_RIGHT_Y[i - 1]
    line(xs, ys, 1, 0.9, '#1a1a1a')

# --- B
line(B_BASE_X + B_FIRST_X, B_BASE_Y + B_FIRST_Y, 2, 1.4)
for i in range(17):
    xs = B_BASE_X + B_MID_X[i] + B_RIGHT_X
    ys = B_BASE_Y + B_MID_Y[i] + B_PROFILES[B_PROFILE_OF[i]]
    line(xs, ys, 2, 2.2 if i >= 12 else 1.4)

# --- C
for i in range(len(C_X)):
    line(C_BASE_X + C_X[i], C_BASE_Y + C_Y[i], 3, 2.0 if i >= 15 else 1.2)

# --- D
for i in range(16):
    xs = D_BASE_X + D_LEFT_X + D_MID_X[i] + D_RIGHT_X
    ys = D_BASE_Y + D_LEFT_Y[i] + D_MID_Y[i] + D_PROFILES[D_PROFILE_OF[i]]
    line(xs, ys, 4, 2.4 if i >= 12 else 1.5)

# --- E
for i in range(len(E_X)):
    last = E_X[i][-1]
    env_x = [x for x in E_ENV_X if x > last + 0.05]
    env_y = [y for x, y in zip(E_ENV_X, E_ENV_Y) if x > last + 0.05]
    xs = E_BASE_X + E_X[i] + env_x + E_TAIL_X
    ys = E_BASE_Y + E_Y[i] + env_y + E_TAILS[E_TAIL_OF[i]]
    line(xs, ys, 5, 2.2 if i >= 21 else 1.2)


# ---------------- axes ----------------
def dx(l, r):
    return [l / W, r / W]


def dy(t, b):
    return [1 - b / H, 1 - t / H]


def ax_base():
    return dict(showline=True, linecolor='black', linewidth=1, mirror=True, showgrid=True,
                gridcolor='#3c3c3c', gridwidth=1, zeroline=False, ticks='', fixedrange=True,
                automargin=False)


panels = [
    (1, (334.3, 855.3), (68.3, 513), [-0.1, 70.0], [-63.2, 19.9], 'A'),
    (2, (39.7, 603), (685.4, 1058.7), [0, 73.0], [-60, 40], 'B'),
    (3, (660, 1193), (686.5, 1059.5), [0, 71.07], [-60, 40], 'C'),
    (4, (43.3, 604), (1135.9, 1502.9), [0, 70.1], [-60, 40], 'D'),
    (5, (665, 1199), (1131.3, 1497.3), [0, 71.2], [-60, 40], 'E'),
]
standoff_x = {'A': 3, 'B': 8, 'C': 8, 'D': 7, 'E': 5}
layout = {}
for idx, (xl, xr_), (yt, yb), xrng, yrng, name in panels:
    sfx = '' if idx == 1 else str(idx)
    gcol = '#555' if name == 'A' else '#3c3c3c'
    xa = ax_base()
    xa.update(domain=dx(xl, xr_), range=xrng, anchor='y' + sfx,
              tickmode='array', tickvals=MM_LABEL_POS[name], ticktext=MM_TEXT, showgrid=False,
              minor=dict(tickmode='array', tickvals=MM_GRID, showgrid=True, gridcolor=gcol,
                         gridwidth=1, ticks=''),
              tickfont=dict(family=SANS, size=12 if name == 'A' else 14, color='black'),
              ticklabelstandoff=standoff_x[name])
    ya = ax_base()
    ya.update(domain=dy(yt, yb), range=yrng, anchor='x' + sfx, gridcolor=gcol)
    if name == 'A':
        ya.update(tickvals=A_PCT_VALS, ticktext=A_PCT_TEXT,
                  tickfont=dict(family=SANS, size=13, color='black'), ticklabelstandoff=4)
    elif name in ('B', 'D'):
        ya.update(tickvals=PCT_VALS, ticktext=PCT_TEXT,
                  tickfont=dict(family=SANS, size=10, color='black'), ticklabelstandoff=5)
    else:
        ya.update(tickvals=PCT_VALS, showticklabels=False)
    layout['xaxis' + sfx] = xa
    layout['yaxis' + sfx] = ya

fig.update_layout(width=W, height=H, margin=dict(l=0, r=0, t=0, b=0, autoexpand=False),
                  paper_bgcolor='white', plot_bgcolor='white', showlegend=False, **layout)

# ---------------- annotations ----------------
ann = []


def text(t, px, py, size, family=SANS, bold=False, xanchor='center'):
    s = '<b>%s</b>' % t if bold else t
    ann.append(dict(text=s, x=px / W, y=1 - py / H, xref='paper', yref='paper', showarrow=False,
                    xanchor=xanchor, yanchor='middle', font=dict(family=family, size=size, color='black')))


# panel A
text('A', 826, 30, 26, bold=True)
text('Time (min)', 920, 27, 21, SERIF)
A_TIME_Y = [61, 97, 133, 170, 206, 243, 280, 316, 352, 389, 425, 461, 497]
for t, yy in zip(A_TIMES, A_TIME_Y):
    text(t, 918, yy, 17)
text('Delta Backscattering', 334, 54, 17, xanchor='left')
text('Tube length', 590, 558, 21, SERIF)
ann.append(dict(x=958 / W, y=1 - 482 / H, xref='paper', yref='paper', ax=0, ay=-410, showarrow=True,
                arrowhead=2, arrowsize=2.2, arrowwidth=1.5, arrowcolor='black', text=''))

# panel B
text('B', 549, 663, 26, bold=True)
text('Delta Backscattering', 37, 669, 17, xanchor='left')
text('Zone I', 177, 738, 28, SERIF, bold=True)
text('Zone II', 402, 736, 28, SERIF, bold=True)
text('Tube length', 281, 1103, 21, SERIF)

# panel C
text('C', 1153, 663, 26, bold=True)
text('Delta Backscattering', 665, 669, 17, xanchor='left')
text('Time', 1238, 620, 21, SERIF)
text('(min)', 1240, 648, 21, SERIF)
C_TIME_Y = [691, 722, 753, 784, 814, 845, 876, 906, 937, 967, 998, 1028, 1059]
for t, yy in zip(C_TIMES, C_TIME_Y):
    text(t, 1238, yy, 14)
text('Tube length', 897, 1103, 21, SERIF)

# panel D
text('D', 556, 1109, 26, bold=True)
text('Tube length', 298, 1557, 21, SERIF)

# panel E
text('E', 1158, 1109, 26, bold=True)
E_TIME_Y = [1120, 1150, 1180, 1211, 1242, 1273, 1304, 1334, 1365, 1395, 1426, 1457, 1487]
for t, yy in zip(E_TIMES, E_TIME_Y):
    text(t, 1247, yy, 14)
text('Tube length', 893, 1555, 21, SERIF)

# time arrows inside panels (data coordinates)
ARROWS = [(1, 26.6, 3.5, -34.7), (2, 16.4, 1.5, -58.7), (3, 14.1, 6.9, -54.3),
          (4, 15.8, 8.0, -57.0), (5, 15.1, 8.0, -57.9)]
for idx, ax_x, top, tip in ARROWS:
    sfx = '' if idx == 1 else str(idx)
    ann.append(dict(x=ax_x, y=tip, ax=ax_x, ay=top, xref='x' + sfx, yref='y' + sfx,
                    axref='x' + sfx, ayref='y' + sfx, showarrow=True, arrowhead=2,
                    arrowsize=2.4 if idx == 1 else 2.0, arrowwidth=1.4, arrowcolor='black', text=''))

fig.update_layout(annotations=ann)

# ---------------- shapes ----------------
shapes = []
shapes.append(dict(type='line', xref='x', yref='y', x0=0, x1=70, y0=0, y1=0,
                   line=dict(color='white', width=1.5), layer='below'))
shapes.append(dict(type='line', xref='x', yref='y', x0=0, x1=70, y0=0, y1=0,
                   line=dict(color='black', width=1, dash='dot'), layer='below'))


def brace(x0, xm, x1, ye, ym, yt):
    return ('M {a},{ye} Q {a},{ym} {a2},{ym} L {b1},{ym} Q {m},{ym} {m},{yt} '
            'Q {m},{ym} {b2},{ym} L {c1},{ym} Q {c},{ym} {c},{ye}').format(
        a=x0, a2=x0 + 1.6, b1=xm - 1.6, m=xm, b2=xm + 1.6, c1=x1 - 1.6, c=x1, ye=ye, ym=ym, yt=yt)


BRACES = [(6.9, 17.7, 28.5), (36.4, 47.2, 58.0)]
for x0, xm, x1 in BRACES:
    shapes.append(dict(type='path', xref='x2', yref='y2', path=brace(x0, xm, x1, 12.0, 16.0, 19.8),
                       line=dict(color='black', width=1.6)))
fig.update_layout(shapes=shapes)

fig.write_html('out.html')
